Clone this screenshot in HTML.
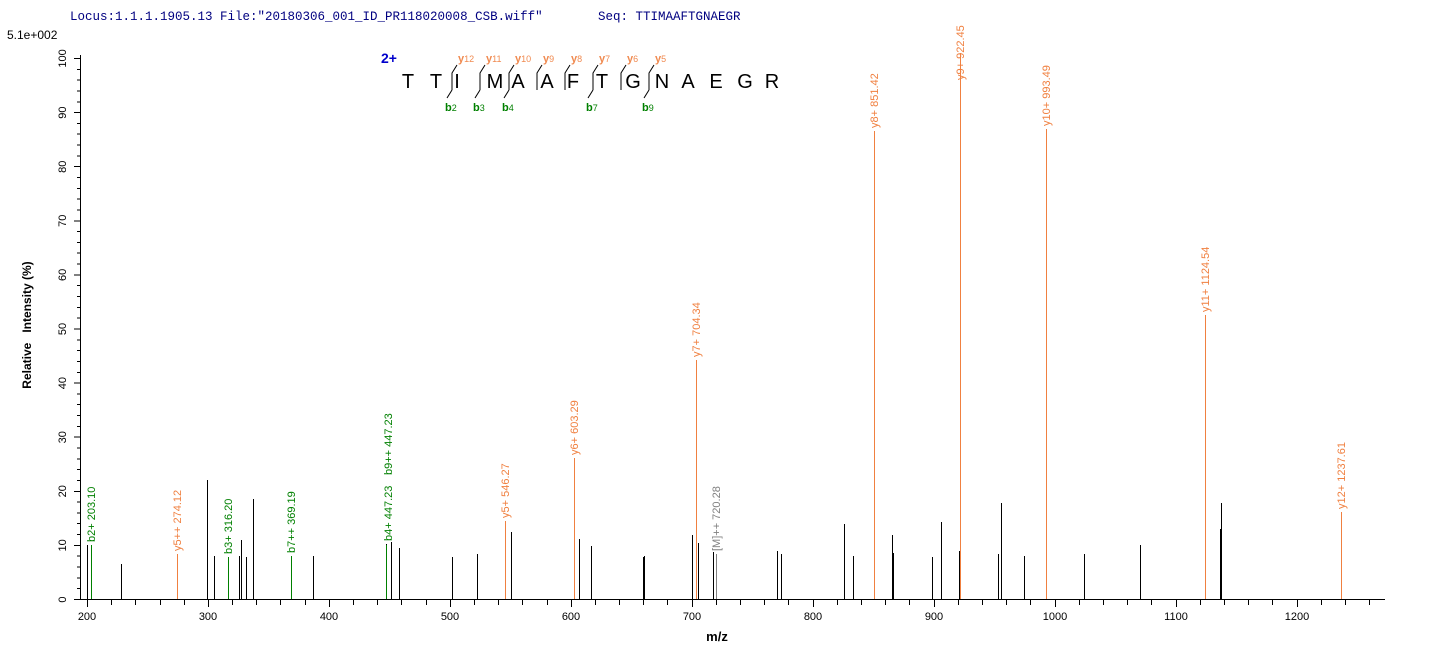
<!DOCTYPE html>
<html><head><meta charset="utf-8"><style>
html,body{margin:0;padding:0;background:#fff;}
svg{display:block;}
text{font-family:"Liberation Sans",Arial,sans-serif;}
</style></head><body>
<svg width="1436" height="658" viewBox="0 0 1436 658" xmlns="http://www.w3.org/2000/svg">
<text x="70" y="20" font-size="12.5" fill="#000080" style="font-family:'Liberation Mono',monospace">Locus:1.1.1.1905.13 File:"20180306_001_ID_PR118020008_CSB.wiff"</text>
<text x="598" y="20" font-size="12.5" fill="#000080" style="font-family:'Liberation Mono',monospace">Seq: TTIMAAFTGNAEGR</text>
<text x="7" y="39" font-size="12" fill="#000">5.1e+002</text>

<!-- sequence -->
<text x="381" y="63" font-size="14" font-weight="bold" fill="#0000cc">2+</text>
<g font-size="20" fill="#000" text-anchor="middle">
<text x="408" y="88">T</text><text x="436" y="88">T</text><text x="457" y="88">I</text><text x="495" y="88">M</text><text x="518" y="88">A</text><text x="547" y="88">A</text><text x="573" y="88">F</text><text x="602" y="88">T</text><text x="633" y="88">G</text><text x="662" y="88">N</text><text x="688" y="88">A</text><text x="716" y="88">E</text><text x="745" y="88">G</text><text x="772" y="88">R</text>
</g>
<g stroke="#000" stroke-width="1" fill="none">
<path d="M457,65 L452,73 L452,90"/><path d="M485,65 L480,73 L480,90"/><path d="M514,65 L509,73 L509,90"/><path d="M542,65 L537,73 L537,90"/><path d="M570,65 L565,73 L565,90"/><path d="M598,65 L593,73 L593,90"/><path d="M626,65 L621,73 L621,90"/><path d="M654,65 L649,73 L649,90"/>
<path d="M452,90 L447,98"/><path d="M480,90 L475,98"/><path d="M509,90 L504,98"/><path d="M593,90 L588,98"/><path d="M649,90 L644,98"/>
</g>
<g font-size="11" font-weight="bold" fill="#f08a50">
<text x="458" y="62">y<tspan font-size="9" font-weight="normal">12</tspan></text>
<text x="486" y="62">y<tspan font-size="9" font-weight="normal">11</tspan></text>
<text x="515" y="62">y<tspan font-size="9" font-weight="normal">10</tspan></text>
<text x="543" y="62">y<tspan font-size="9" font-weight="normal">9</tspan></text>
<text x="571" y="62">y<tspan font-size="9" font-weight="normal">8</tspan></text>
<text x="599" y="62">y<tspan font-size="9" font-weight="normal">7</tspan></text>
<text x="627" y="62">y<tspan font-size="9" font-weight="normal">6</tspan></text>
<text x="655" y="62">y<tspan font-size="9" font-weight="normal">5</tspan></text>
</g>
<g font-size="11" font-weight="bold" fill="#008000">
<text x="445" y="111">b<tspan font-size="9" font-weight="normal">2</tspan></text>
<text x="473" y="111">b<tspan font-size="9" font-weight="normal">3</tspan></text>
<text x="502" y="111">b<tspan font-size="9" font-weight="normal">4</tspan></text>
<text x="586" y="111">b<tspan font-size="9" font-weight="normal">7</tspan></text>
<text x="642" y="111">b<tspan font-size="9" font-weight="normal">9</tspan></text>
</g>

<!-- axes -->
<g stroke="#000" stroke-width="1" shape-rendering="crispEdges">
<line x1="80.5" y1="55" x2="80.5" y2="600"/>
<line x1="80" y1="599.5" x2="1385" y2="599.5"/>
<path d="M74,599.5h6M74,545.4h6M74,491.3h6M74,437.2h6M74,383.1h6M74,329h6M74,274.9h6M74,220.8h6M74,166.7h6M74,112.6h6M74,58.5h6"/>
<path d="M77,588.7h3M77,577.9h3M77,567h3M77,556.2h3M77,534.6h3M77,523.7h3M77,512.9h3M77,502.1h3M77,480.5h3M77,469.6h3M77,458.8h3M77,448h3M77,426.4h3M77,415.5h3M77,404.7h3M77,393.9h3M77,372.3h3M77,361.4h3M77,350.6h3M77,339.8h3M77,318.2h3M77,307.3h3M77,296.5h3M77,285.7h3M77,264.1h3M77,253.2h3M77,242.4h3M77,231.6h3M77,210h3M77,199.1h3M77,188.3h3M77,177.5h3M77,155.9h3M77,145h3M77,134.2h3M77,123.4h3M77,101.8h3M77,90.9h3M77,80.1h3M77,69.3h3"/>
<path d="M87.5,600v7M111.5,600v5M135.5,600v5M160.5,600v5M184.5,600v5M208.5,600v7M232.5,600v5M256.5,600v5M280.5,600v5M305.5,600v5M329.5,600v7M353.5,600v5M377.5,600v5M401.5,600v5M426.5,600v5M450.5,600v7M474.5,600v5M498.5,600v5M522.5,600v5M547.5,600v5M571.5,600v7M595.5,600v5M619.5,600v5M643.5,600v5M667.5,600v5M692.5,600v7M716.5,600v5M740.5,600v5M764.5,600v5M788.5,600v5M813.5,600v7M837.5,600v5M861.5,600v5M885.5,600v5M909.5,600v5M934.5,600v7M958.5,600v5M982.5,600v5M1006.5,600v5M1030.5,600v5M1055.5,600v7M1079.5,600v5M1103.5,600v5M1127.5,600v5M1151.5,600v5M1176.5,600v7M1200.5,600v5M1224.5,600v5M1248.5,600v5M1272.5,600v5M1297.5,600v7M1321.5,600v5M1345.5,600v5M1369.5,600v5"/>
</g>
<g font-size="11" fill="#000" text-anchor="middle">
<text x="87" y="620">200</text><text x="208" y="620">300</text><text x="329" y="620">400</text><text x="450" y="620">500</text><text x="571" y="620">600</text><text x="692" y="620">700</text><text x="813" y="620">800</text><text x="934" y="620">900</text><text x="1055" y="620">1000</text><text x="1176" y="620">1100</text><text x="1297" y="620">1200</text>
</g>
<g font-size="11" fill="#000" text-anchor="middle">
<text transform="translate(66,599.5) rotate(-90)">0</text>
<text transform="translate(66,545.4) rotate(-90)">10</text>
<text transform="translate(66,491.3) rotate(-90)">20</text>
<text transform="translate(66,437.2) rotate(-90)">30</text>
<text transform="translate(66,383.1) rotate(-90)">40</text>
<text transform="translate(66,329) rotate(-90)">50</text>
<text transform="translate(66,274.9) rotate(-90)">60</text>
<text transform="translate(66,220.8) rotate(-90)">70</text>
<text transform="translate(66,166.7) rotate(-90)">80</text>
<text transform="translate(66,112.6) rotate(-90)">90</text>
<text transform="translate(66,58.5) rotate(-90)">100</text>
</g>
<text transform="translate(31,325) rotate(-90)" font-size="12" font-weight="bold" text-anchor="middle" xml:space="preserve">Relative   Intensity (%)</text>
<text x="717" y="641" font-size="13" font-weight="bold" text-anchor="middle">m/z</text>

<g transform="translate(0.5,0)" stroke-width="1" shape-rendering="crispEdges">
<g stroke="#000">
<path d="M87,599V545M121,599V564M207,599V480M214,599V556M239,599V556M241,599V540M246,599V557M253,599V499M313,599V556M386,599V544M391,599V542M399,599V548M452,599V557M477,599V554M511,599V532M579,599V539M591,599V546M643,599V557M644,599V556M692,599V535M698,599V543M713,599V552M777,599V551M781,599V554M844,599V524M853,599V556M892,599V535M893,599V553M932,599V557M941,599V522M959,599V551M998,599V554M1001,599V503M1024,599V556M1046,599V546M1084,599V554M1140,599V545M1220,599V529M1221,599V503"/>
</g>
<g stroke="#008000"><path d="M91,599V545M228,599V557M291,599V556M386,599V545"/></g>
<g stroke="#808080"><path d="M716,599V554"/></g>
<g stroke="#f08040"><path d="M177,599V554M505,599V521M574,599V458M696,599V360M874,599V131M960,599V53M1046,599V129M1205,599V315M1341,599V512"/></g>
</g>
<g font-size="11">
<g fill="#008000">
<text transform="translate(95,542) rotate(-90)">b2+ 203.10</text>
<text transform="translate(232,554) rotate(-90)">b3+ 316.20</text>
<text transform="translate(295,553) rotate(-90)">b7++ 369.19</text>
<text transform="translate(392,541) rotate(-90)">b4+ 447.23</text>
<text transform="translate(392,475) rotate(-90)">b9++ 447.23</text>
</g>
<g fill="#808080"><text transform="translate(720,551) rotate(-90)">[M]++ 720.28</text></g>
<g fill="#f08040">
<text transform="translate(181,551) rotate(-90)">y5++ 274.12</text>
<text transform="translate(509,518) rotate(-90)">y5+ 546.27</text>
<text transform="translate(578,455) rotate(-90)">y6+ 603.29</text>
<text transform="translate(700,357) rotate(-90)">y7+ 704.34</text>
<text transform="translate(878,128) rotate(-90)">y8+ 851.42</text>
<text transform="translate(964,80) rotate(-90)">y9+ 922.45</text>
<text transform="translate(1050,126) rotate(-90)">y10+ 993.49</text>
<text transform="translate(1209,312) rotate(-90)">y11+ 1124.54</text>
<text transform="translate(1345,509) rotate(-90)">y12+ 1237.61</text>
</g>
</g>
</svg>
</body></html>
